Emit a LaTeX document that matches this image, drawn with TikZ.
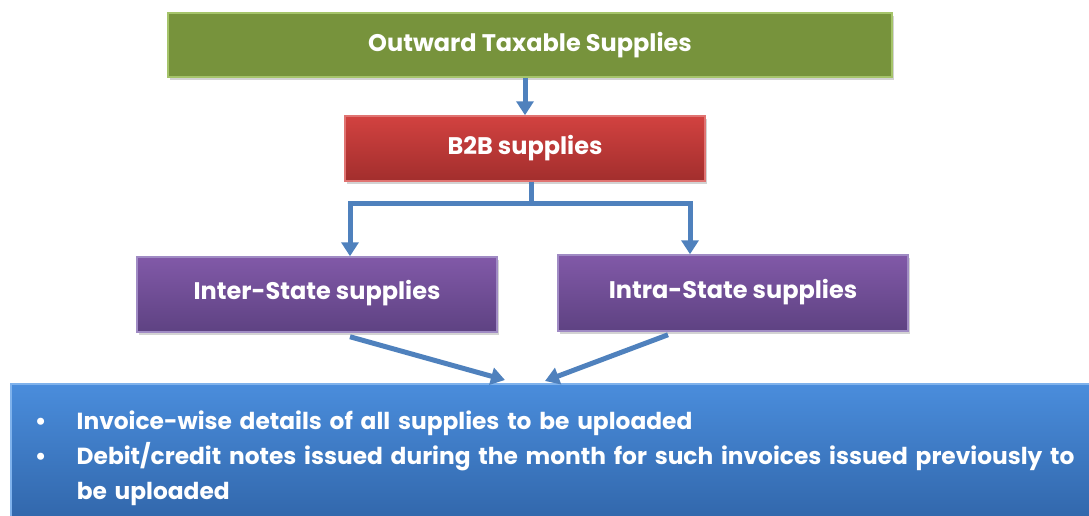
\documentclass[tikz,border=0pt]{standalone}
\usepackage{fontspec}
\setmainfont{Poppins}
\usetikzlibrary{arrows.meta,shadows}
\definecolor{vert}{HTML}{77933C}
\definecolor{vertclair}{HTML}{A5C46A}
\definecolor{rougehaut}{HTML}{D24240}
\definecolor{rougebas}{HTML}{A22E2D}
\definecolor{rougeclair}{HTML}{E07472}
\definecolor{violethaut}{HTML}{8159A8}
\definecolor{violetbas}{HTML}{5E4282}
\definecolor{violetclair}{HTML}{A08BC4}
\definecolor{bleuhaut}{HTML}{4A8DDC}
\definecolor{bleubas}{HTML}{2F63A6}
\definecolor{bleuclair}{HTML}{7FB2EC}
\definecolor{bleufl}{HTML}{4F81BD}

\begin{document}
\begin{tikzpicture}[x=1pt,y=-1pt]
\tikzset{boite/.style={draw, line width=1.5pt, text=white, font=\fontsize{24}{28}\selectfont\bfseries, drop shadow={opacity=0.35, shadow xshift=2pt, shadow yshift=-3pt}},
fleche/.style={draw=bleufl, line width=5pt, -{Triangle[width=17pt,length=14pt]}}}
\clip (0,0) rectangle (1089,515);
\node[boite, fill=vert, draw=vertclair, minimum width=724pt, minimum height=64pt] (Out) at (530,45) {Outward Taxable Supplies};
\node[boite, top color=rougehaut, bottom color=rougebas, draw=rougeclair, minimum width=360pt, minimum height=65pt] (B2B) at (525,148.5) {B2B supplies};
\node[boite, top color=violethaut, bottom color=violetbas, draw=violetclair, minimum width=360pt, minimum height=75pt, text depth=10pt] (Inter) at (317,294.5) {Inter-State supplies};
\node[boite, top color=violethaut, bottom color=violetbas, draw=violetclair, minimum width=350pt, minimum height=76pt, text depth=8pt] (Intra) at (733,293) {Intra-State supplies};
\node[boite, top color=bleuhaut, bottom color=bleubas, draw=bleuclair, anchor=north west, text width=1060pt, inner xsep=24pt, minimum height=150pt, align=left, font=\fontsize{23.3}{35}\selectfont\bfseries] (Bas) at (10,383) {\makebox[42pt][l]{\textbullet}Invoice-wise details of all supplies to be uploaded\\
\makebox[42pt][l]{\textbullet}Debit/credit notes issued during the month for such invoices issued previously to\\
\hspace*{42pt}be uploaded};
\draw[fleche] (B2B.north |- Out.south) -- (B2B.north);
\draw[fleche] ([xshift=6pt]B2B.south) -- ++(0,22) -| ([xshift=33pt]Inter.north);
\draw[fleche] ([xshift=6pt]B2B.south) -- ++(0,22) -| ([xshift=-43pt]Intra.north);
\draw[fleche] ([xshift=33pt,yshift=-4pt]Inter.south) -- ([shift={(495pt,3pt)}]Bas.north west);
\draw[fleche] ([xshift=-65pt,yshift=-3pt]Intra.south) -- ([shift={(535pt,2pt)}]Bas.north west);
\end{tikzpicture}
\end{document}
